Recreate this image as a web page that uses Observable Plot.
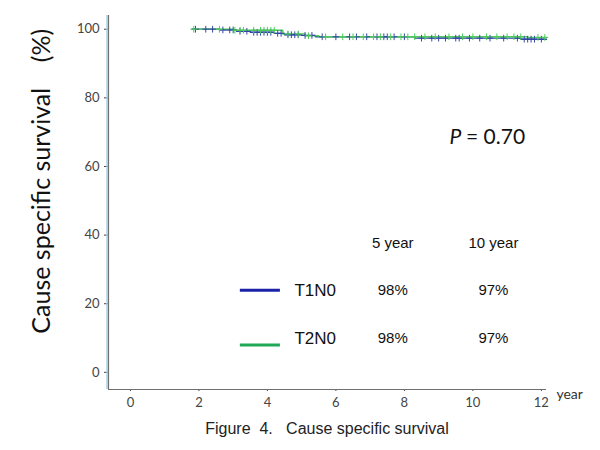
<!DOCTYPE html>
<html><head><meta charset="utf-8">
<script src="https://cdn.jsdelivr.net/npm/d3@7"></script>
<script src="https://cdn.jsdelivr.net/npm/@observablehq/plot@0.6"></script>
<style>
body{margin:0;background:#fff;}
#cap{width:600px;box-sizing:border-box;padding-left:54px;text-align:center;font:16px "Liberation Sans",Arial,sans-serif;color:#222;margin-top:8px;line-height:18px;}
</style></head><body>
<div id="chart"></div>
<div id="cap">Figure&nbsp;&nbsp;4.&nbsp;&nbsp;&nbsp;Cause specific survival</div>
<script>
// Kaplan-Meier step points (time in years, survival %)
const t1Times = [1.8, 2.6, 3.1, 3.5, 4.2, 4.5, 5.0, 5.4, 8.3, 11.4, 12.15];
const t1Surv  = [100, 99.8, 99.4, 99.1, 98.8, 98.4, 98.2, 97.8, 97.4, 97.1, 97.1];
const t2Times = [1.8, 3.0, 4.45, 5.1, 5.5, 11.6, 12.15];
const t2Surv  = [100, 99.7, 98.6, 98.1, 97.8, 97.6, 97.6];
// censoring times
const t1Censor = [1.9, 2.2, 2.4, 2.7, 2.9, 3.0, 3.2, 3.4, 3.6, 3.7, 3.8, 3.9, 4.0, 4.1, 4.3, 4.4, 4.6, 4.7, 4.8, 4.9, 5.1, 5.3, 5.6, 6.0, 6.4, 6.6, 6.9, 7.2, 7.4, 7.5, 7.7, 8.0, 8.5, 8.8, 9.0, 9.2, 9.5, 9.6, 9.9, 10.2, 10.5, 10.9, 11.3, 11.5, 11.6, 11.7, 11.8, 12.0];
const t2Censor = [1.85, 2.6, 3.05, 3.2, 3.3, 3.6, 3.8, 3.9, 4.0, 4.1, 4.2, 4.6, 4.9, 5.2, 5.7, 6.2, 6.5, 6.8, 7.1, 7.3, 7.6, 7.9, 8.1, 8.3, 8.6, 8.9, 9.3, 9.7, 10.0, 10.4, 10.7, 11.0, 11.2, 11.4, 11.9, 12.1];
const groups = ["T1N0", "T2N0"];
const rate5 = ["98%", "98%"];
const rate10 = ["97%", "97%"];
const pText = "= 0.70";
const yTicks = [0, 20, 40, 60, 80, 100];
const xTicks = [0, 2, 4, 6, 8, 10, 12];

const curveColor = {T1N0: "#3447a6", T2N0: "#4fca5e"};
const legendColor = {T1N0: "#1a22a8", T2N0: "#1fa855"};

function steps(times, surv, g){ return times.map((t,i)=>({t, s: surv[i], g})); }
function survAt(times, surv, x){ let v = surv[0]; for(let i=0;i<times.length;i++){ if(times[i]<=x) v = surv[i]; } return v; }

const lineData = [...steps(t1Times, t1Surv, "T1N0"), ...steps(t2Times, t2Surv, "T2N0")];
const censData = [
  ...t1Censor.map(t=>({t, s: survAt(t1Times, t1Surv, t), g:"T1N0"})),
  ...t2Censor.map(t=>({t, s: survAt(t2Times, t2Surv, t), g:"T2N0"}))
];

const legX1 = 3.21, legX2 = 4.38, legLab = 4.79, col5 = 7.66, col10 = 10.6;
const rowY = [23.9, 9.9], lineY = [23.9, 8.0], headY = 37.6;
const legendLines = groups.map((g,i)=>({g, x1: legX1, x2: legX2, y: lineY[i]}));
const tableRows = groups.map((g,i)=>({g, y: rowY[i], r5: rate5[i], r10: rate10[i]}));

const font = "Lato, 'Open Sans', sans-serif";
const arial = "'Liberation Sans', Arial, sans-serif";

const chart = Plot.plot({
  width: 600, height: 412,
  marginLeft: 108, marginRight: 54, marginTop: 15, marginBottom: 23,
  style: {fontFamily: font, fontSize: "13px", color: "#444", background: "#fff"},
  x: {domain: [-0.64, 12.15], ticks: xTicks, tickSize: 2, tickPadding: 6, label: null},
  y: {domain: [-5, 104], ticks: yTicks, tickSize: 4, tickPadding: 5, label: null},
  marks: [
    Plot.ruleX([-0.64], {stroke: "#a9d0e2", strokeWidth: 1.5, dx: -1.5}),
    Plot.ruleX([-0.64], {stroke: "#707070", strokeWidth: 1.2}),
    Plot.ruleY([-5], {stroke: "#707070", strokeWidth: 1.2}),
    Plot.line(lineData, {x: "t", y: "s", z: "g", stroke: d => curveColor[d.g], curve: "step-after", strokeWidth: 1.4}),
    Plot.dot(censData, {x: "t", y: "s", symbol: "plus", r: 2.3, stroke: d => curveColor[d.g], strokeWidth: 1}),
    Plot.ruleY(legendLines, {x1: "x1", x2: "x2", y: "y", stroke: d => legendColor[d.g], strokeWidth: 3}),
    Plot.text(tableRows, {x: legLab, y: "y", text: "g", textAnchor: "start", fontFamily: arial, fontSize: 17, fill: "#111"}),
    Plot.text(tableRows, {x: col5, y: "y", text: "r5", fontFamily: arial, fontSize: 15, fill: "#111"}),
    Plot.text(tableRows, {x: col10, y: "y", text: "r10", fontFamily: arial, fontSize: 15, fill: "#111"}),
    Plot.text(["5 year"], {x: col5, y: headY, text: d => d, fontFamily: arial, fontSize: 15, fill: "#111"}),
    Plot.text(["10 year"], {x: col10, y: headY, text: d => d, fontFamily: arial, fontSize: 15, fill: "#111"}),
    Plot.text(["P"], {x: 9.66, y: 68.5, text: d => d, textAnchor: "end", fontStyle: "italic", fontFamily: font, fontSize: 21, fill: "#111"}),
    Plot.text([pText], {x: 9.8, y: 68.5, text: d => d, textAnchor: "start", fontFamily: font, fontSize: 21, fill: "#111"}),
    Plot.text(["year"], {x: 12.44, y: -6.6, text: d => d, textAnchor: "start", fontFamily: font, fontSize: 14, fill: "#333"}),
    Plot.text(["Cause specific survival\u00a0\u00a0\u00a0\u00a0(%)"], {x: -2.57, y: 55.7, text: d => d, rotate: -90, fontFamily: font, fontSize: 25, fill: "#111"})
  ]
});
document.getElementById("chart").appendChild(chart);
</script>
</body></html>
